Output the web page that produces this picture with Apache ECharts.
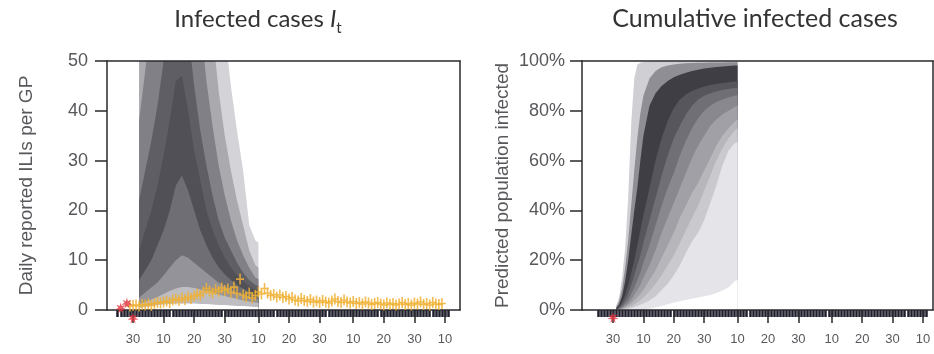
<!DOCTYPE html>
<html>
<head>
<meta charset="utf-8">
<script src="https://cdn.jsdelivr.net/npm/echarts@6/dist/echarts.min.js"></script>
<style>
  html, body { margin: 0; padding: 0; background: #ffffff; }
  #chart { width: 934px; height: 354px; }
</style>
</head>
<body>
<div id="chart"></div>
<script>
// ---- date axis: days counted from 30 Jun ----
const tickDays   = [0, 10, 20, 30, 41, 51, 61, 72, 82, 92, 102];
const tickLabels = ['30', '10', '20', '30', '10', '20', '30', '10', '20', '30', '10'];
const rugFirstDay = -5;
const rugLastDay = 103;

// ---- left panel: forecast quantiles of daily ILI per GP ----
const iliDays = [2, 4, 6, 8, 10, 12, 14, 16, 18, 20, 22, 24, 26, 28, 30, 32, 34, 36, 38, 40, 41];
const iliQ975 = [150, 170, 190, 210, 230, 245, 250, 240, 215, 185, 150, 115, 88, 70, 56, 45, 36, 28, 17, 14, 13.5];
const iliQ90  = [70, 85, 100, 115, 130, 145, 155, 150, 135, 115, 92, 72, 56, 44, 35, 28, 22, 17, 12, 9, 8.5];
const iliQ80  = [38, 48, 58, 70, 82, 95, 105, 100, 88, 72, 58, 46, 37, 29, 23, 18, 14, 11, 8.5, 6.5, 6.2];
const iliQ65  = [22, 28, 34, 41, 50, 60, 68, 66, 56, 45, 36, 29, 23, 18, 14.5, 12, 9.5, 7.5, 6, 5, 4.8];
const iliQ50  = [12, 16, 20, 25, 31, 38, 46, 47, 40, 32, 26, 20, 16, 13, 10.5, 8.5, 7, 5.8, 4.8, 4, 3.8];
const iliQ35  = [6, 8, 10, 13, 16, 20, 25, 27, 24, 20, 16, 13, 10.5, 8.6, 7.2, 6, 5, 4.3, 3.6, 3, 2.9];
const iliQ20  = [2.5, 3.5, 4.5, 5.5, 7, 8.5, 10, 11, 10.5, 9.5, 8.5, 7.5, 6.5, 5.5, 4.7, 4, 3.5, 3, 2.6, 2.2, 2.1];
const iliQ10  = [1.2, 1.6, 2.1, 2.6, 3.2, 3.8, 4.3, 4.6, 4.6, 4.4, 4.1, 3.8, 3.5, 3.1, 2.8, 2.5, 2.2, 1.9, 1.7, 1.5, 1.4];
const iliQ025 = [0.4, 0.6, 0.8, 1, 1.1, 1.2, 1.3, 1.3, 1.3, 1.3, 1.2, 1.2, 1.1, 1, 1, 0.9, 0.8, 0.8, 0.7, 0.6, 0.6];

// observed daily ILI per GP, one value per day starting at obsFirstDay
const obsFirstDay = -1;
const obsValues = [
  0.8, 0.9, 1.0, 0.8, 1.1, 1.0, 1.2, 0.9, 1.3, 1.5, 1.4,
  1.6, 1.8, 1.5, 2.0, 2.2, 1.9, 2.4, 2.1, 2.6, 2.3, 2.8,
  3.2, 2.9, 3.6, 4.3, 3.8, 3.4, 4.1, 3.7, 4.4, 3.9,
  4.2, 3.5, 4.6, 3.3, 6.2, 3.0, 2.6, 3.4, 2.4, 2.9,
  3.6, 3.2, 4.3, 3.4, 2.9, 3.1, 2.6, 3.0, 2.5, 2.7,
  2.2, 2.5, 2.0, 1.8, 2.3, 1.9, 1.7, 2.1, 1.6, 1.8,
  1.5, 1.9, 1.6, 1.4, 1.8, 2.2, 1.7, 1.5, 2.0, 1.6,
  1.4, 1.7, 1.3, 1.5, 1.2, 1.6, 1.4, 1.1, 1.3, 1.5,
  1.2, 1.0, 1.4, 1.1, 1.3, 1.0, 1.2, 1.5, 1.1, 1.3,
  1.0, 1.4, 1.2, 1.6, 1.1, 1.3, 1.0, 1.5, 1.2, 1.1, 1.3
];
// early reports and the forecast date marker
const earlyDays = [-4, -2, 0];
const earlyValues = [0.4, 1.4, -1.6];

// ---- right panel: forecast quantiles of cumulative share infected (%) ----
const cumDays = [1, 2, 3, 4, 5, 6, 7, 8, 9, 10, 12, 14, 16, 18, 20, 22, 24, 26, 28, 30, 32, 34, 36, 38, 40, 41];
const cumQ975 = [1.5, 5, 13, 25, 45, 75, 93, 98.5, 99.3, 99.6, 99.7, 99.8, 99.8, 99.8, 99.8, 99.8, 99.8, 99.8, 99.8, 99.8, 99.8, 99.8, 99.8, 99.8, 99.8, 99.8];
const cumQ90  = [1, 3.5, 8.5, 17, 28, 42, 56, 69, 79, 86, 93, 96, 97.5, 98.2, 98.6, 98.9, 99.1, 99.2, 99.3, 99.3, 99.4, 99.4, 99.4, 99.5, 99.5, 99.5];
const cumQ80  = [0.6, 2.2, 5.5, 11.5, 20, 30, 40, 49, 60, 70, 82, 87, 90, 92, 93.5, 94.5, 95.3, 96, 96.5, 97, 97.3, 97.6, 97.8, 98, 98.2, 98.2];
const cumQ70  = [0.4, 1.2, 3, 6, 10, 15, 20, 26, 32, 38, 49, 60, 69, 76, 81, 84.5, 86.5, 88, 89, 89.8, 90.4, 90.8, 91.2, 91.5, 91.8, 91.9];
const cumQ60  = [0.2, 0.8, 2, 4, 6.5, 10, 14, 18, 22, 27, 36, 45, 54, 62, 69, 74, 78.5, 82, 84.5, 86, 87, 87.8, 88.4, 88.8, 89.2, 89.3];
const cumQ50  = [0.1, 0.5, 1.2, 2.5, 4, 6.5, 9, 12, 15, 19, 26, 34, 42, 49, 55, 62, 68, 73, 77, 80, 82, 83.5, 84.5, 85.3, 86, 86.2];
const cumQ40  = [0, 0.3, 0.8, 1.6, 2.6, 4, 6, 8, 10, 13, 18, 24, 31, 37, 43, 49, 55, 61, 66, 70, 74, 76.5, 78.5, 80, 81.5, 82];
const cumQ30  = [0, 0.2, 0.5, 1, 1.7, 2.6, 3.8, 5, 6.5, 8, 12, 16, 21, 26, 31, 37, 42, 47, 51, 56, 61, 66, 70, 73, 75.5, 76.5];
const cumQ20  = [0, 0.1, 0.3, 0.6, 1, 1.5, 2.2, 3, 4, 5, 7.5, 10.5, 14, 18, 22, 27, 32, 37, 42, 48, 54, 60, 65, 69, 72, 73];
const cumQ10  = [0, 0, 0.1, 0.3, 0.5, 0.8, 1.2, 1.6, 2.1, 2.6, 3.8, 5.5, 8, 10.5, 14, 18, 23, 27.5, 31, 36, 43, 50, 58, 64, 67, 67.5];
const cumQ025 = [0, 0, 0, 0, 0, 0, 0, 0, 0, 0, 0.5, 1, 1.6, 2.3, 3, 3.5, 4, 4.5, 5, 5.5, 6, 6.8, 7.8, 9, 11.5, 12];
const cumMarkerDays = [0];
const cumMarkerValues = [-3];

// ---- styling ----
const AXIS_COLOR = '#2a2a2e';
const LABEL_COLOR = '#58585c';
const AXIS_FONT = "'Liberation Sans', Arial, Helvetica, sans-serif";
const TITLE_FONT = "Lato, 'Open Sans', sans-serif";

// fill colour of the band lying under each quantile curve (painted top to bottom)
const iliFills = ['#d4d4d8', '#a9a9ae', '#808086', '#5e5e64', '#505056', '#6e6e74', '#939399', '#bdbdc2', '#ffffff'];
const cumFills = ['#cfcfd4', '#8e8e94', '#3e3e44', '#56565c', '#6f6f75', '#88888e', '#a0a0a6', '#b6b6bb', '#c9c9ce', '#e4e4e9', '#ffffff'];

const dailyTicks = [];
for (let d = rugFirstDay; d <= rugLastDay; d++) dailyTicks.push(d);

function starPath(points, outer, inner) {
  const parts = [];
  for (let i = 0; i < points * 2; i++) {
    const r = i % 2 === 0 ? outer : inner;
    const a = Math.PI * i / points - Math.PI / 2;
    parts.push((i === 0 ? 'M' : 'L') + (r * Math.cos(a)).toFixed(2) + ',' + (r * Math.sin(a)).toFixed(2));
  }
  return 'path://' + parts.join(' ') + 'Z';
}
const STAR = starPath(7, 10, 4.2);
const PLUS = 'path://M4,0H6V14H4Z M0,6H10V8H0Z';

function xAxesFor(gridIndex, min, max) {
  const line = { color: AXIS_COLOR, width: 1.5 };
  return [
    {
      type: 'value', gridIndex, min, max, position: 'bottom', z: 10,
      axisLine: { show: true, onZero: false, lineStyle: line },
      axisTick: { show: true, customValues: tickDays, length: 13, lineStyle: line },
      axisLabel: {
        show: true, customValues: tickDays, margin: 23,
        formatter: v => tickLabels[tickDays.indexOf(v)],
        color: LABEL_COLOR, fontSize: 13, fontFamily: AXIS_FONT
      },
      splitLine: { show: false }
    },
    {
      type: 'value', gridIndex, min, max, position: 'bottom', z: 9,
      axisLine: { show: false },
      axisTick: { show: true, customValues: dailyTicks, length: 7, lineStyle: { color: '#1e1e2c', width: 2.5 } },
      axisLabel: { show: false },
      splitLine: { show: false }
    },
    {
      type: 'value', gridIndex, min, max, position: 'top', z: 10,
      axisLine: { show: true, onZero: false, lineStyle: line },
      axisTick: { show: false }, axisLabel: { show: false }, splitLine: { show: false }
    }
  ];
}

function yAxesFor(gridIndex, max, interval, name, fmt, nameGap, labelMargin) {
  const line = { color: AXIS_COLOR, width: 1.5 };
  return [
    {
      type: 'value', gridIndex, min: 0, max, interval, position: 'left', z: 10,
      name, nameLocation: 'middle', nameGap, nameRotate: 90,
      nameTextStyle: { color: LABEL_COLOR, fontSize: 19, fontFamily: AXIS_FONT },
      axisLine: { show: true, onZero: false, lineStyle: line },
      axisTick: { show: true, length: 12, lineStyle: line },
      axisLabel: { show: true, margin: labelMargin, formatter: fmt, color: LABEL_COLOR, fontSize: 18, fontFamily: AXIS_FONT },
      splitLine: { show: false }
    },
    {
      type: 'value', gridIndex, min: 0, max, position: 'right', z: 10,
      axisLine: { show: true, onZero: false, lineStyle: line },
      axisTick: { show: false }, axisLabel: { show: false }, splitLine: { show: false }
    }
  ];
}

function fanSeries(days, curves, fills, xAxisIndex, yAxisIndex) {
  return curves.map((q, k) => ({
    type: 'line', xAxisIndex, yAxisIndex, silent: true,
    data: days.map((d, i) => [d, q[i]]),
    symbol: 'none', showSymbol: false,
    lineStyle: { width: 0 },
    areaStyle: { color: fills[k], opacity: 1, origin: 'start' },
    animation: false, z: 2
  }));
}

const iliCurves = [iliQ975, iliQ90, iliQ80, iliQ65, iliQ50, iliQ35, iliQ20, iliQ10, iliQ025];
const cumCurves = [cumQ975, cumQ90, cumQ80, cumQ70, cumQ60, cumQ50, cumQ40, cumQ30, cumQ20, cumQ10, cumQ025];

const option = {
  animation: false,
  backgroundColor: '#ffffff',
  grid: [
    { left: 107, right: 474, top: 61, bottom: 44 },
    { left: 582, right: 1, top: 61, bottom: 44 }
  ],
  xAxis: [].concat(xAxesFor(0, -8.5, 106.9), xAxesFor(1, -10.2, 105.3)),
  yAxis: [].concat(
    yAxesFor(0, 50, 10, 'Daily reported ILIs per GP', '{value}', 71, 19),
    yAxesFor(1, 100, 20, 'Predicted population infected', '{value}%', 70, 17)
  ),
  graphic: [
    {
      type: 'text', x: 258, y: 19, silent: true,
      style: {
        text: '{a|Infected cases }{b|I}{c|t}',
        align: 'center', verticalAlign: 'middle',
        rich: {
          a: { fontSize: 24, fontFamily: TITLE_FONT, fill: '#333', lineHeight: 34 },
          b: { fontSize: 24, fontFamily: TITLE_FONT, fontStyle: 'italic', fill: '#333', lineHeight: 34 },
          c: { fontSize: 15, fontFamily: TITLE_FONT, fill: '#333', lineHeight: 15, verticalAlign: 'bottom' }
        }
      }
    },
    {
      type: 'text', x: 755, y: 19, silent: true,
      style: {
        text: 'Cumulative infected cases',
        align: 'center', verticalAlign: 'middle',
        fontSize: 25, fontFamily: TITLE_FONT, fill: '#333'
      }
    }
  ],
  series: [].concat(
    fanSeries(iliDays, iliCurves, iliFills, 0, 0),
    fanSeries(cumDays, cumCurves, cumFills, 3, 2),
    [
      {
        type: 'scatter', xAxisIndex: 0, yAxisIndex: 0, z: 12, silent: true,
        data: obsValues.map((v, i) => [obsFirstDay + i, v]),
        symbol: PLUS, symbolSize: [8, 11],
        itemStyle: { color: '#f0b032', opacity: 0.85 }
      },
      {
        type: 'scatter', xAxisIndex: 0, yAxisIndex: 0, z: 13, silent: true, clip: false,
        data: earlyDays.map((d, i) => [d, earlyValues[i]]),
        symbol: STAR, symbolSize: 11,
        itemStyle: { color: '#e0323c' }
      },
      {
        type: 'scatter', xAxisIndex: 3, yAxisIndex: 2, z: 13, silent: true, clip: false,
        data: cumMarkerDays.map((d, i) => [d, cumMarkerValues[i]]),
        symbol: STAR, symbolSize: 11,
        itemStyle: { color: '#e0323c' }
      }
    ]
  )
};

const chart = echarts.init(document.getElementById('chart'));
chart.setOption(option);
</script>
</body>
</html>
